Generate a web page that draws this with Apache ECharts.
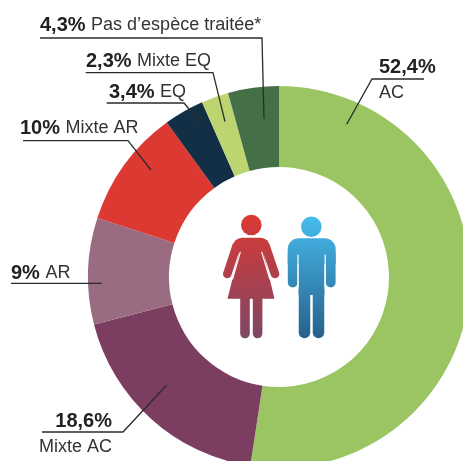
<!DOCTYPE html>
<html><head><meta charset="utf-8">
<style>html,body{margin:0;padding:0;background:#fff;overflow:hidden}#c{width:463px;height:461px}</style>
<script src="https://cdn.jsdelivr.net/npm/echarts@6/dist/echarts.min.js"></script>
</head><body><div id="c"></div>
<script>
const categories = ['AC','Mixte AC','AR','Mixte AR','EQ','Mixte EQ',"Pas d\u2019espèce traitée*"];
const values = [52.4,18.6,9,10,3.4,2.3,4.3];
const colors = ['#9BC562','#7B3D60','#9A6C81','#DC3933','#132F45','#BDD570','#456F46'];
// label anchor (x, y, align) and leader polyline for each slice
const labelPos = [
  {x:379,y:55,align:'left',line:[[424,79],[372,79],[346.7,124.3]]},
  {x:112,y:409,align:'right',line:[[42,432],[123,432],[166.7,385]]},
  {x:11,y:273.5,align:'left',line:[[11,283.3],[101.7,283.3]]},
  {x:20,y:128.5,align:'left',line:[[23,140.7],[128,140.7],[151,170]]},
  {x:109,y:92,align:'left',line:[[106.7,103],[184,103],[199,121]]},
  {x:86,y:61.5,align:'left',line:[[85.7,72.7],[213,72.7],[225,121.7]]},
  {x:40,y:25.5,align:'left',line:[[40,38],[262,38],[264,119]]}
];
const stacked = [true,true,false,false,false,false,false];
const fmt = v => String(v).replace('.',',') + '%';
const wGrad = {type:'linear',global:true,x:0,y:214,x2:0,y2:338,colorStops:[{offset:0,color:'#DC3933'},{offset:1,color:'#7F4766'}]};
const mGrad = {type:'linear',global:true,x:0,y:216,x2:0,y2:338,colorStops:[{offset:0,color:'#46BDEE'},{offset:1,color:'#27608C'}]};
const line = (pts,w,c)=>({type:'polyline',z:10,shape:{points:pts},style:{fill:null,stroke:c,lineWidth:w,lineCap:'round',lineJoin:'round'}});
const poly = (pts,c)=>({type:'polygon',z:10,shape:{points:pts},style:{fill:c}});
const icons = [
  {type:'circle',z:10,shape:{cx:251.3,cy:225,r:10.3},style:{fill:wGrad}},
  {type:'rect',z:10,shape:{x:233,y:237.7,width:36.6,height:16,r:[9,9,0,0]},style:{fill:wGrad}},
  line([[236.5,246],[227.3,274]],8.6,wGrad),
  line([[265.5,246],[275,274]],8.6,wGrad),
  poly([[241,245],[261.6,245],[274.5,298.7],[227.5,298.7]],wGrad),
  line([[245,298],[245,333.5]],9.6,wGrad),
  line([[257.6,298],[257.6,333.5]],9.6,wGrad),
  line([[240.2,252.3],[232.6,279]],1.2,'#fff'),
  line([[261.8,252.3],[269.8,279]],1.2,'#fff'),
  {type:'circle',z:10,shape:{cx:311.3,cy:226.7,r:10.3},style:{fill:mGrad}},
  {type:'rect',z:10,shape:{x:287.7,y:238.3,width:48,height:26,r:[11,11,0,0]},style:{fill:mGrad}},
  line([[292.7,255],[292.7,282.5]],9.8,mGrad),
  line([[330.7,255],[330.7,282.5]],9.8,mGrad),
  {type:'rect',z:10,shape:{x:298.6,y:255,width:25.8,height:40},style:{fill:mGrad}},
  line([[304.5,290],[304.5,332.5]],11.5,mGrad),
  line([[318.5,290],[318.5,332.5]],11.5,mGrad),
  line([[298,255],[298,287]],1.2,'#fff'),
  line([[325.2,255],[325.2,287]],1.2,'#fff')
];
const leaders = labelPos.map(l=>({type:'polyline',z:20,shape:{points:l.line},style:{fill:null,stroke:'#2b2b2b',lineWidth:1.3}}));
const chart = echarts.init(document.getElementById('c'),null,{renderer:'canvas'});
const FONT = '"Liberation Sans",sans-serif';
chart.setOption({
  animation:false,
  backgroundColor:'#fff',
  graphic:{elements:icons.concat(leaders)},
  series:[{
    type:'pie',
    center:[279,277],
    radius:[110,191],
    startAngle:90,
    clockwise:true,
    silent:true,
    avoidLabelOverlap:false,
    data:categories.map((n,i)=>({name:n,value:values[i],itemStyle:{color:colors[i]}})),
    label:{
      show:true,
      position:'outside',
      formatter:p=>{
        const i=p.dataIndex;
        return stacked[i]
          ? `{b|${fmt(values[i])}}\n{n|${categories[i]}}`
          : `{b|${fmt(values[i])}}{s| }{n|${categories[i]}}`;
      },
      rich:{
        b:{fontFamily:FONT,fontWeight:'bold',fontSize:20,color:'#222',lineHeight:24},
        n:{fontFamily:FONT,fontSize:18,color:'#333',lineHeight:28},
        s:{width:5.5,fontSize:10}
      }
    },
    labelLine:{show:false},
    labelLayout:p=>{
      const l=labelPos[p.dataIndex];
      return {x:l.x,y:l.y,align:l.align,verticalAlign:stacked[p.dataIndex]?'top':'middle'};
    }
  }]
});
</script></body></html>
